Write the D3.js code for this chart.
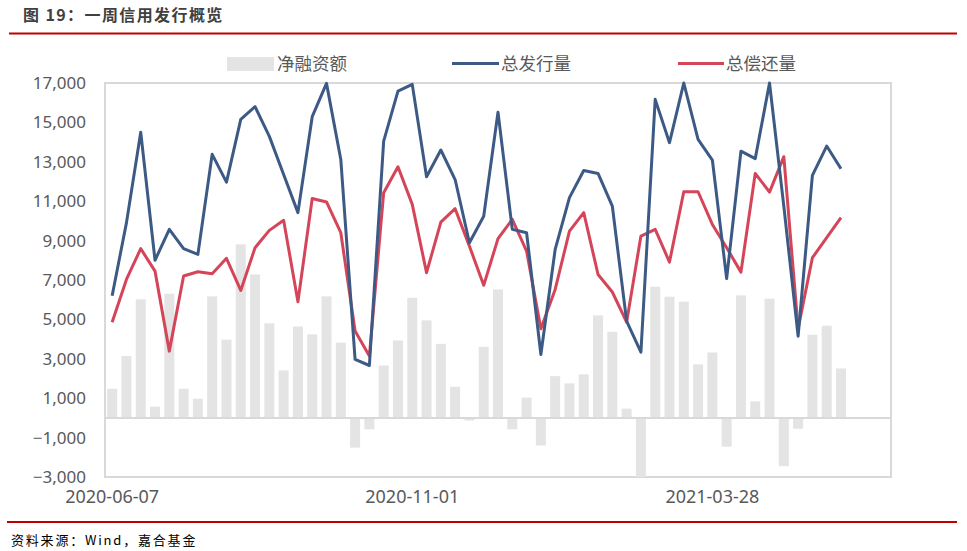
<!DOCTYPE html>
<html>
<head>
<meta charset="utf-8">
<script src="https://cdn.jsdelivr.net/npm/d3@7"></script>
<style>
  body { margin: 0; background: #fff; }
  svg { display: block; }
</style>
</head>
<body>
<script>
// weekly credit bond issuance overview (亿元)
var startDate = "2020-06-07"
var nWeeks = 55
var xTickLabels = ["2020-06-07", "2020-11-01", "2021-03-28"]
var yTicks = [-3000, -1000, 1000, 3000, 5000, 7000, 9000, 11000, 13000, 15000, 17000]

// 总发行量
var issuance = [6200, 9900, 14500, 8000, 9570, 8590, 8300, 13380, 11970, 15150,
    15800, 14290, 12360, 10420, 15290, 16980, 13120, 2970, 2660, 14050,
    16590, 16930, 12240, 13600, 12100, 8890, 10240, 15520, 9570, 9400,
    3220, 8550, 11180, 12560, 12410, 10750, 4910, 3340, 16170, 13970,
    17000, 14140, 13090, 7070, 13540, 13160, 17000, 10750, 4150, 12310,
    13800, 12650]
// 总偿还量
var repayment = [4860, 7030, 8590, 7450, 3390, 7200, 7420, 7320, 8100, 6470,
    8640, 9520, 10030, 5900, 11140, 10960, 9400, 4410, 3140, 11430,
    12750, 10840, 7370, 9940, 10620, 8720, 6730, 9100, 10080, 8470,
    4530, 6520, 9480, 10420, 7280, 6390, 4860, 9230, 9570, 7910,
    11480, 11480, 9820, 8640, 7400, 12410, 11460, 13260, 4530, 8130,
    9150, 10160]
// 净融资额
var netFinancing = [1480, 3140, 6020, 570, 6300, 1480, 970, 6170, 3970, 8810,
    7280, 4800, 2410, 4640, 4240, 6170, 3820, -1510, -580, 2660,
    3930, 6100, 4950, 3760, 1580, -130, 3610, 6520, -580, 1030,
    -1400, 2120, 1750, 2210, 5200, 4370, 470, -3090, 6660, 6150,
    5900, 2720, 3320, -1460, 6220, 840, 6050, -2450, -550, 4220,
    4680, 2510]

var width = 967
var height = 551
var margin = { top: 83, left: 105, right: 76, bottom: 74 }

var fmtDate = d3.timeFormat("%Y-%m-%d")
var parseDate = d3.timeParse("%Y-%m-%d")
var weeks = d3.range(nWeeks).map(function (i) {
    return fmtDate(d3.timeWeek.offset(parseDate(startDate), i))
})

var svg = d3.select("body").append("svg")
    .attr("width", width)
    .attr("height", height)

var xScale = d3.scaleBand()
    .domain(weeks)
    .range([margin.left, width - margin.right])
    .paddingInner(0.3)
    .paddingOuter(0.15)

var yScale = d3.scaleLinear()
    .domain([-3000, 17000])
    .range([height - margin.bottom, margin.top])

var cx = function (i) { return xScale(weeks[i]) + xScale.bandwidth() / 2 }

// title + rules
svg.append("text")
    .attr("x", 23).attr("y", 21)
    .style("font-family", "'Noto Sans CJK SC'")
    .style("font-size", "16px")
    .style("font-weight", "bold")
    .style("letter-spacing", "1.4px")
    .style("fill", "#404040")
    .text("图 19：一周信用发行概览")

svg.append("line")
    .attr("x1", 9).attr("x2", 957).attr("y1", 33.5).attr("y2", 33.5)
    .style("stroke", "#c00000").style("stroke-width", 2)

svg.append("line")
    .attr("x1", 7).attr("x2", 957).attr("y1", 522).attr("y2", 522)
    .style("stroke", "#c00000").style("stroke-width", 2)

svg.append("text")
    .attr("x", 11).attr("y", 545)
    .style("font-family", "'Noto Sans CJK SC'")
    .style("font-size", "13px")
    .style("letter-spacing", "1.8px")
    .style("fill", "#000")
    .text("资料来源：Wind，嘉合基金")

// plot frame
var x0 = xScale.range()[0], x1 = xScale.range()[1]
svg.append("rect")
    .attr("x", x0).attr("y", yScale(17000))
    .attr("width", x1 - x0).attr("height", yScale(-3000) - yScale(17000))
    .style("fill", "none").style("stroke", "#d9d9d9").style("stroke-width", 2)

svg.append("clipPath").attr("id", "plot-clip")
    .append("rect")
    .attr("x", x0).attr("y", yScale(17000) - 2)
    .attr("width", x1 - x0).attr("height", yScale(-3000) - yScale(17000) + 2)

var plot = svg.append("g").attr("clip-path", "url(#plot-clip)")

// bars
plot.selectAll("rect.bar")
    .data(netFinancing)
    .enter()
    .append("rect")
    .attr("class", "bar")
    .attr("x", function (d, i) { return xScale(weeks[i]) })
    .attr("width", xScale.bandwidth())
    .attr("y", function (d) { return yScale(Math.max(0, d)) })
    .attr("height", function (d) { return Math.abs(yScale(d) - yScale(0)) })
    .style("fill", "#e4e4e4")

// zero line
svg.append("line")
    .attr("x1", x0).attr("x2", x1)
    .attr("y1", yScale(0)).attr("y2", yScale(0))
    .style("stroke", "#d9d9d9").style("stroke-width", 2)

// lines
var line = d3.line()
    .x(function (d, i) { return cx(i) })
    .y(function (d) { return yScale(d) })

plot.append("path")
    .datum(repayment)
    .attr("d", line)
    .style("fill", "none")
    .style("stroke", "#d5455a")
    .style("stroke-width", 3)
    .style("stroke-linejoin", "round")

plot.append("path")
    .datum(issuance)
    .attr("d", line)
    .style("fill", "none")
    .style("stroke", "#3d5a85")
    .style("stroke-width", 3)
    .style("stroke-linejoin", "round")

// y axis labels
var yAxis = d3.axisLeft(yScale)
    .tickValues(yTicks)
    .tickSize(0)
    .tickPadding(19)
    .tickFormat(d3.format(",d"))

var gy = svg.append("g")
    .attr("transform", "translate(" + x0 + ",0)")
    .call(yAxis)
gy.select(".domain").remove()
gy.selectAll("text")
    .style("font-family", "'Noto Sans', sans-serif")
    .style("font-size", "17px")
    .style("fill", "#595959")

// x axis labels
var xAxis = d3.axisBottom(xScale)
    .tickValues(xTickLabels)
    .tickSize(0)
    .tickPadding(13)

var gx = svg.append("g")
    .attr("transform", "translate(0," + yScale(-3000) + ")")
    .call(xAxis)
gx.select(".domain").remove()
gx.selectAll("text")
    .style("font-family", "'Noto Sans', sans-serif")
    .style("font-size", "18px")
    .style("fill", "#595959")

// legend
var legend = svg.append("g").attr("class", "legend")
    .style("font-family", "'Noto Sans CJK SC'")
    .style("font-size", "17.5px")
    .style("fill", "#595959")

legend.append("rect")
    .attr("x", 227).attr("y", 57).attr("width", 47).attr("height", 14)
    .style("fill", "#e4e4e4")
legend.append("text").attr("x", 277).attr("y", 70).text("净融资额")

legend.append("line")
    .attr("x1", 452).attr("x2", 499).attr("y1", 63.5).attr("y2", 63.5)
    .style("stroke", "#3d5a85").style("stroke-width", 3)
legend.append("text").attr("x", 501).attr("y", 70).text("总发行量")

legend.append("line")
    .attr("x1", 678).attr("x2", 724).attr("y1", 63.5).attr("y2", 63.5)
    .style("stroke", "#d5455a").style("stroke-width", 3)
legend.append("text").attr("x", 726).attr("y", 70).text("总偿还量")
</script>
</body>
</html>
